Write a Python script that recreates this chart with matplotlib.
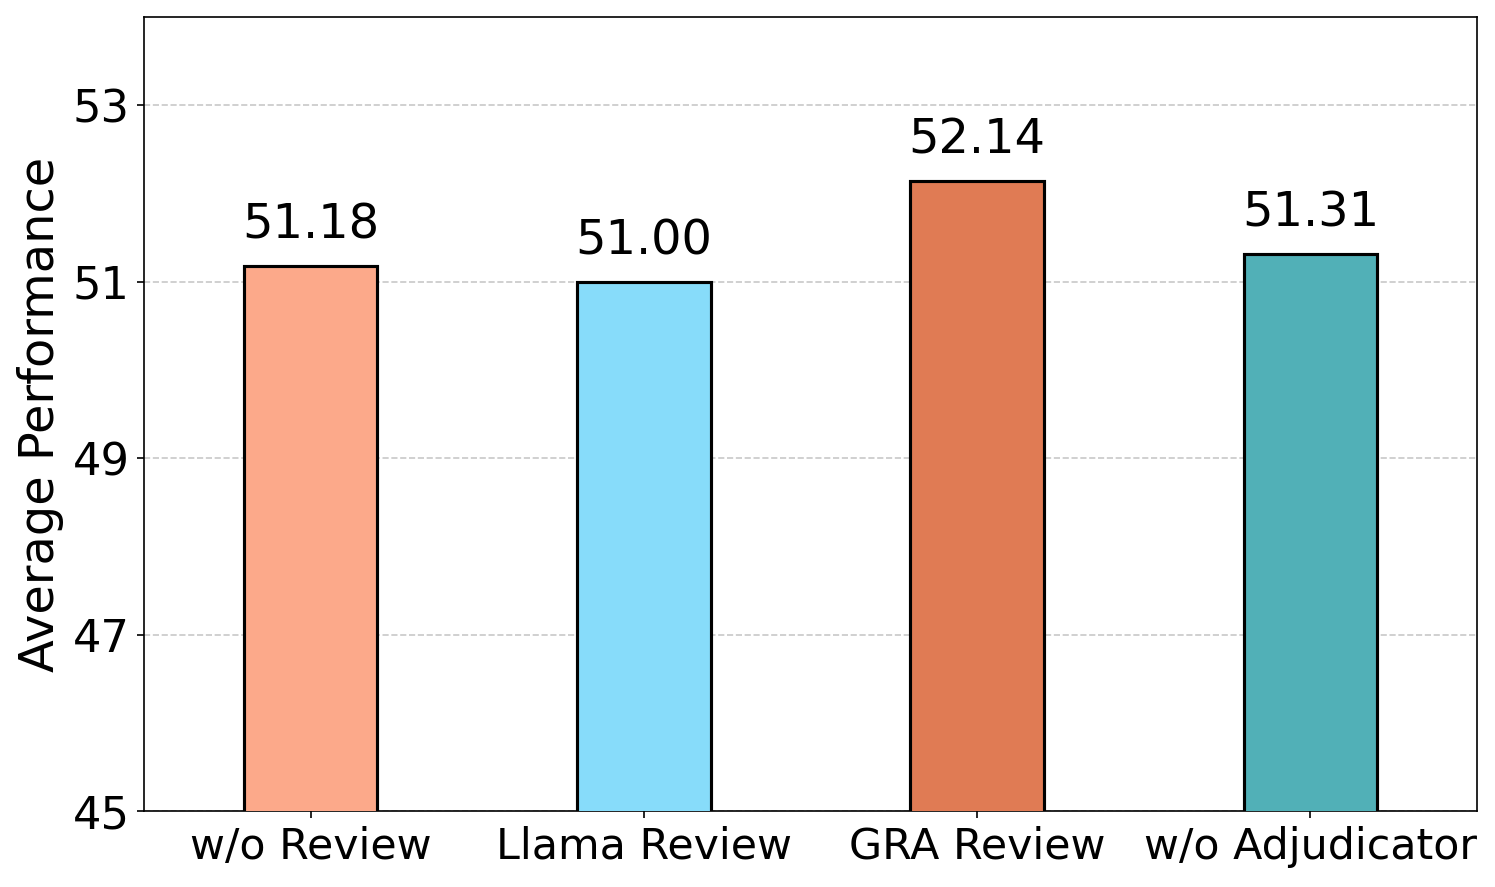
import matplotlib.pyplot as plt

CATEGORIES = ['w/o Review', 'Llama Review', 'GRA Review', 'w/o Adjudicator']
SCORES = [51.18, 51.00, 52.14, 51.31]
COLORS = ['#FCA98A', '#87DCFA', '#E07B54', '#51B0B7']
YTICKS = [45, 47, 49, 51, 53]

fig = plt.figure(figsize=(1495 / 150, 887 / 150), dpi=150)
ax = fig.add_axes([144 / 1495, 76 / 887, 1333 / 1495, 794 / 887])

x = range(len(CATEGORIES))
bars = ax.bar(x, SCORES, width=0.4, color=COLORS, edgecolor='black',
              linewidth=1.5, zorder=3)

for b, v in zip(bars, SCORES):
    ax.text(b.get_x() + b.get_width() / 2, v + 0.2, '%.2f' % v,
            ha='center', va='bottom', fontsize=23)

ax.set_xlim(-0.5, 3.5)
ax.set_ylim(45, 54)
ax.set_yticks(YTICKS)
ax.set_xticks(list(x))
ax.set_xticklabels(CATEGORIES, fontsize=20.5)
ax.tick_params(axis='y', labelsize=21.5)
ax.set_ylabel('Average Performance', fontsize=23)
ax.yaxis.grid(True, linestyle='--', color='#bbbbbb', alpha=0.8, zorder=0)
ax.set_axisbelow(True)

fig.savefig('out.png', dpi=150)
